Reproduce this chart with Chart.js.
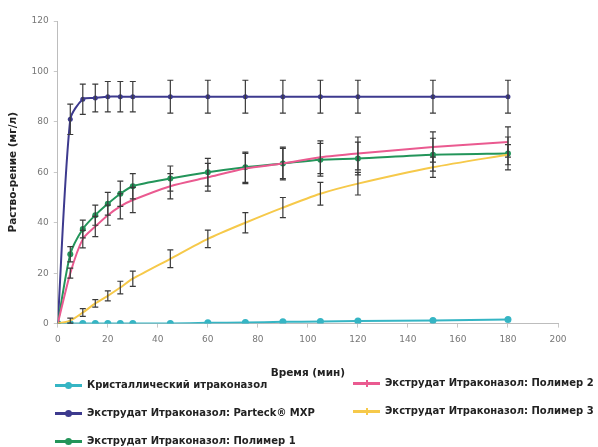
<!DOCTYPE html>
<html>
<head>
<meta charset="utf-8">
<script src="https://cdn.jsdelivr.net/npm/chart.js@4.4.0/dist/chart.umd.min.js"></script>
<style>
  html, body { margin: 0; padding: 0; background: #fff; }
  #wrap { position: relative; width: 598px; height: 447px; }
  #legend { position: absolute; left: 0; top: 0; width: 598px; height: 447px; pointer-events: none;
    font-family: "DejaVu Sans", sans-serif; font-weight: bold; font-size: 10px; line-height: 12px; color: #222; }
  .item { position: absolute; display: flex; align-items: center; white-space: nowrap; }
  .sw { position: relative; width: 27px; height: 3px; margin-right: 5px; }
  .sw i { position: absolute; left: 10px; top: -2px; width: 7px; height: 7px; border-radius: 50%; }
</style>
</head>
<body>
<div id="wrap">
  <canvas id="chart" width="598" height="447"></canvas>
  <div id="legend"></div>
</div>
<script>
const time = [0, 5, 10, 15, 20, 25, 30, 45, 60, 75, 90, 105, 120, 150, 180];

const crystal = [0, 0, 0, 0, 0, 0, 0, 0, 0.3, 0.4, 0.7, 0.8, 1, 1.2, 1.6];
const parteck = [0, 81, 89, 89.5, 90, 90, 90, 90, 90, 90, 90, 90, 90, 90, 90];
const polymer1 = [0, 27.5, 37.5, 43, 47.5, 51.5, 54.5, 57.5, 60, 62, 63.5, 65, 65.5, 67, 67.5];
const polymer2 = [0, 20, 33.5, 38.5, 43, 46.5, 49, 54.5, 58, 61.5, 63.5, 66, 67.5, 70, 72];
const polymer3 = [0, 1.2, 4.4, 8, 11, 14.3, 17.8, 25.7, 33.6, 40, 46, 51.5, 55.5, 62, 67];

const crystalErr = [0, 0, 0, 0, 0, 0, 0, 0, 0, 0, 0, 0, 0, 0, 0];
const parteckErr = [0, 6, 6, 5.5, 6, 6, 6, 6.5, 6.5, 6.5, 6.5, 6.5, 6.5, 6.5, 6.5];
const polymer1Err = [0, 3, 3.5, 4, 4.5, 5, 5, 5, 5.5, 6, 6, 6.5, 6.5, 6.5, 6.5];
const polymer2Err = [0, 2, 3.5, 4, 4, 5, 5, 5, 5.5, 6, 6.5, 6.5, 6.5, 6, 6];
const polymer3Err = [0, 1, 1.5, 1.5, 2, 2.5, 3, 3.5, 3.5, 4, 4, 4.5, 4.5, 4, 4];

const labels = [
  'Кристаллический итраконазол',
  'Экструдат Итраконазол: Parteck® MXP',
  'Экструдат Итраконазол: Полимер 1',
  'Экструдат Итраконазол: Полимер 2',
  'Экструдат Итраконазол: Полимер 3'
];

const xTicks = [0, 20, 40, 60, 80, 100, 120, 140, 160, 180, 200];
const yTicks = [0, 20, 40, 60, 80, 100, 120];

function toXY(vals) {
  return vals.map((v, i) => ({ x: time[i], y: v }));
}

const colors = ['#35b5c4', '#3d3a8e', '#23955a', '#ea5a90', '#f6c94a'];
const series = [crystal, parteck, polymer1, polymer2, polymer3];
const errors = [crystalErr, parteckErr, polymer1Err, polymer2Err, polymer3Err];
const radii = [3.5, 2.5, 3, 0, 0];

const datasets = series.map((s, i) => ({
  label: labels[i],
  data: toXY(s),
  err: errors[i],
  borderColor: colors[i],
  backgroundColor: colors[i],
  borderWidth: 2,
  pointRadius: radii[i],
  pointBorderWidth: 0,
  tension: 0.25,
  order: 5 - i
}));

// усы погрешностей
const errorBars = {
  id: 'errorBars',
  afterDatasetsDraw(chart) {
    const ctx = chart.ctx;
    const xs = chart.scales.x, ys = chart.scales.y;
    ctx.save();
    ctx.strokeStyle = '#3a3a3a';
    ctx.lineWidth = 1.2;
    chart.data.datasets.forEach(ds => {
      ds.data.forEach((p, i) => {
        const e = ds.err[i];
        if (!e) return;
        const px = xs.getPixelForValue(p.x);
        const top = ys.getPixelForValue(p.y + e);
        const bot = ys.getPixelForValue(p.y - e);
        ctx.beginPath();
        ctx.moveTo(px, top); ctx.lineTo(px, bot);
        ctx.moveTo(px - 3, top); ctx.lineTo(px + 3, top);
        ctx.moveTo(px - 3, bot); ctx.lineTo(px + 3, bot);
        ctx.stroke();
      });
    });
    ctx.restore();
  }
};

const tickFont = { family: 'DejaVu Sans', size: 9 };
const titleFont = { family: 'DejaVu Sans', size: 10.5, weight: 'bold' };

const chart = new Chart(document.getElementById('chart'), {
  type: 'line',
  data: { datasets: datasets },
  options: {
    responsive: false,
    animation: false,
    layout: { padding: { top: 21, right: 40, bottom: 63, left: 3 } },
    plugins: {
      legend: { display: false },
      tooltip: { enabled: false }
    },
    scales: {
      x: {
        type: 'linear',
        min: 0, max: 200,
        afterBuildTicks: s => { s.ticks = xTicks.map(v => ({ value: v })); },
        grid: { drawOnChartArea: false, drawTicks: true, tickLength: 4, color: '#c8c8c8' },
        border: { color: '#bdbdbd' },
        ticks: { color: '#777', font: tickFont, padding: 7, maxRotation: 0 },
        title: { display: true, text: 'Время (мин)', color: '#222', font: titleFont, padding: { top: 15 } }
      },
      y: {
        min: 0, max: 120,
        afterBuildTicks: s => { s.ticks = yTicks.map(v => ({ value: v })); },
        grid: { drawOnChartArea: false, drawTicks: true, tickLength: 4, color: '#c8c8c8' },
        border: { color: '#bdbdbd' },
        ticks: { color: '#777', font: tickFont, padding: 5 },
        title: { display: true, text: 'Раство-рение (мг/л)', color: '#222', font: titleFont, padding: { top: 4, bottom: 7 } }
      }
    }
  },
  plugins: [errorBars]
});

// легенда в две колонки, как в оригинале
const legendPos = [[55, 385], [55, 413], [55, 441], [353, 383], [353, 411]];
const legend = document.getElementById('legend');
chart.data.datasets.forEach((ds, i) => {
  const d = document.createElement('div');
  d.className = 'item';
  d.style.left = legendPos[i][0] + 'px';
  d.style.top = (legendPos[i][1] - 6) + 'px';
  const sw = document.createElement('span');
  sw.className = 'sw';
  sw.style.background = ds.borderColor;
  const dot = document.createElement('i');
  dot.style.background = ds.borderColor;
  if (!ds.pointRadius) { dot.style.width = '2px'; dot.style.left = '13px'; dot.style.borderRadius = '0'; }
  sw.appendChild(dot);
  const t = document.createElement('span');
  t.textContent = ds.label;
  d.appendChild(sw);
  d.appendChild(t);
  legend.appendChild(d);
});
</script>
</body>
</html>
